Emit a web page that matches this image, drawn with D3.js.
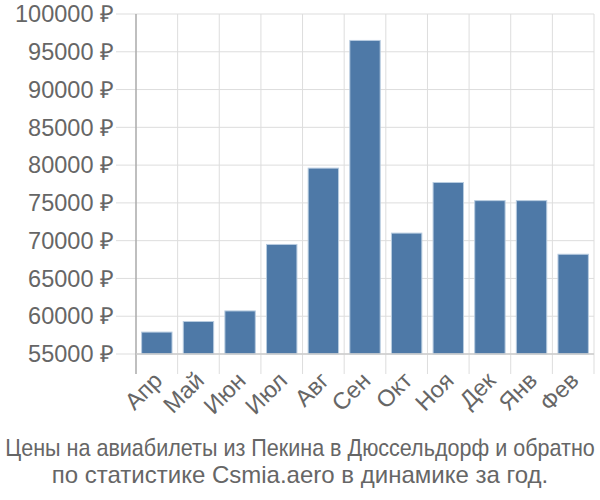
<!DOCTYPE html>
<html><head><meta charset="utf-8">
<script src="https://cdn.jsdelivr.net/npm/d3@7"></script>
<style>body{margin:0;background:#fff}text{font-family:"Liberation Sans",Arial,sans-serif}</style>
</head><body><svg id="c" width="600" height="500"></svg>
<script>
const categories = ["Апр","Май","Июн","Июл","Авг","Сен","Окт","Ноя","Дек","Янв","Фев"];
const values = [57900,59300,60700,69500,79600,96500,71000,77700,75300,75300,68200];
const yTicks = [55000,60000,65000,70000,75000,80000,85000,90000,95000,100000];
const titleLines = ["Цены на авиабилеты из Пекина в Дюссельдорф и обратно","по статистике Csmia.aero в динамике за год."];

const svg = d3.select("#c");
const L=136, R=594, T=14, B=354;
const x = d3.scaleBand().domain(categories).range([L,R]).paddingInner(0.27).paddingOuter(0.135);
const y = d3.scaleLinear().domain([55000,100000]).range([B,T]);
const grid="#dddddd", txt="#666666";

svg.append("g").selectAll("line").data(yTicks).join("line")
  .attr("x1",116).attr("x2",R).attr("y1",d=>y(d)).attr("y2",d=>y(d))
  .attr("stroke",grid).attr("stroke-width",1);
const bstep = (R-L)/categories.length;
const vb = d3.range(categories.length+1).map(i=>L+i*bstep);
svg.append("g").selectAll("line").data(vb.slice(1)).join("line")
  .attr("x1",d=>d).attr("x2",d=>d).attr("y1",T).attr("y2",374)
  .attr("stroke",grid).attr("stroke-width",1);
svg.append("g").selectAll("text").data(yTicks).join("text")
  .attr("x",114).attr("y",d=>y(d)).attr("dy","0.35em").attr("text-anchor","end")
  .attr("fill",txt).style("font-size","23.5px").text(d=>d+" ₽");
svg.append("g").selectAll("rect").data(values).join("rect")
  .attr("x",(d,i)=>x(categories[i])).attr("width",x.bandwidth())
  .attr("y",d=>y(d)).attr("height",d=>B-y(d))
  .attr("fill","#4e79a7").attr("stroke","#b8cce0").attr("stroke-width",1);
svg.append("line").attr("x1",L).attr("x2",L).attr("y1",T).attr("y2",374).attr("stroke","#aaaaaa").attr("stroke-width",1.5);
svg.append("line").attr("x1",L).attr("x2",R).attr("y1",B).attr("y2",B).attr("stroke","#cccccc").attr("stroke-width",1.5);
svg.append("g").selectAll("text").data(categories).join("text")
  .attr("transform",d=>`translate(${x(d)+x.bandwidth()/2+7},${382}) rotate(-45)`)
  .attr("text-anchor","end").attr("fill",txt).style("font-size","23.5px").text(d=>d);
titleLines.forEach((line,i)=>{
  const g = svg.append("g").attr("transform",`translate(300,${456+i*27})`);
  const t = g.append("text").attr("x",0).attr("y",0).attr("text-anchor","middle")
    .attr("fill",txt).style("font-size","24px").text(line);
  const w = t.node().getComputedTextLength();
  if (w > 590) g.attr("transform",`translate(300,${456+i*27}) scale(${590/w},1)`);
});
</script></body></html>
